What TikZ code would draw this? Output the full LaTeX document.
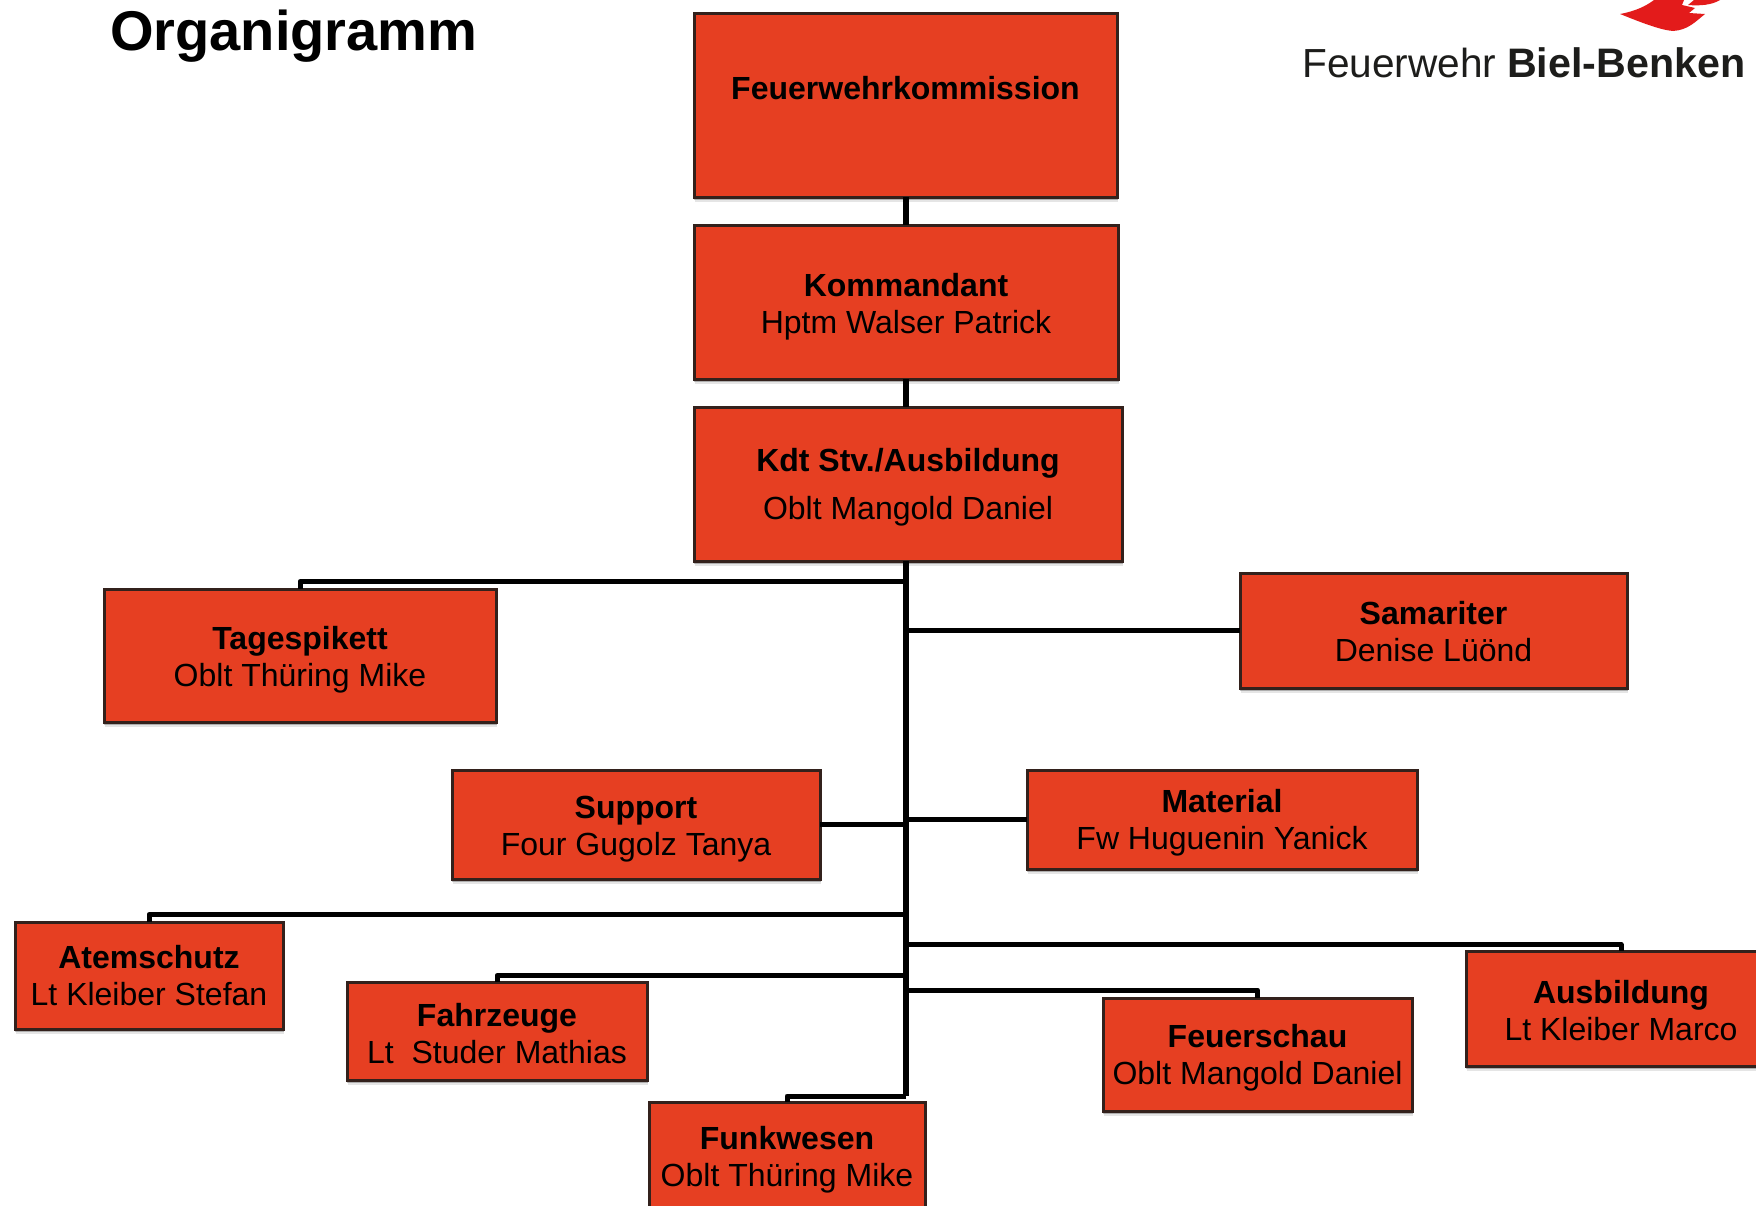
\documentclass[tikz,border=0pt]{standalone}
\usepackage{fontspec}
\setmainfont{Liberation Sans}
\usetikzlibrary{shadows}
\definecolor{boxred}{HTML}{E63F22}
\definecolor{boxline}{HTML}{33211C}
\definecolor{flame}{HTML}{E31B1B}
\definecolor{logotxt}{HTML}{1D1D1B}
% first line of a box, moved down by #1 without moving the box
\newcommand{\headln}[2]{\raisebox{0pt}[\dimexpr\height+#1*2\relax][\depth]{\textbf{#2}}}
\tikzset{
  orgbox/.style n args={2}{draw=boxline, line width=3pt, fill=boxred, inner sep=0pt, outer sep=0pt,
    minimum width=#1, minimum height=#2, align=center, text=black,
    font=\fontsize{32}{37}\selectfont,
    general shadow={shadow xshift=0.5pt, shadow yshift=-3pt, fill=black, opacity=.24, shadow scale=1.004},
    general shadow={shadow xshift=0.5pt, shadow yshift=-5pt, fill=black, opacity=.10}},
  conn/.style={draw=black, line width=5pt, line join=round},
  trunk/.style={draw=black, line width=6pt, line join=round},
  titletext/.style={font=\bfseries\fontsize{56}{60}\selectfont, text=black, inner sep=0pt, anchor=base west},
  logotext/.style={font=\fontsize{40.6}{46}\selectfont, text=logotxt, inner sep=0pt, anchor=base west}
}
\begin{document}
\begin{tikzpicture}[x=1pt,y=-1pt]
\clip (0,0) rectangle (1756,1205);
\useasboundingbox (0,0) rectangle (1756,1205);
\fill[white] (0,0) rectangle (1756,1205);

% title and logo
\node[titletext] (title) at (110,50.5) {Organigramm};
\fill[flame] (1620,14) .. controls (1636,11) and (1646,6) .. (1654,0)
  -- (1684,0) -- (1682,5) -- (1695,8) -- (1689,13) -- (1705,14)
  .. controls (1695,22) and (1688,30) .. (1673,31)
  .. controls (1660,30) and (1640,22) .. (1620,14) -- cycle;
\fill[flame] (1688,5) -- (1694,0) -- (1720,0) .. controls (1712,5) and (1700,6) .. (1688,5) -- cycle;
\node[logotext] (logoa) at (1302,77) {Feuerwehr};
\node[logotext, font=\bfseries\fontsize{41.2}{46}\selectfont] (logob) at (1507,77) {Biel-Benken};

% boxes
\node[orgbox={423pt}{184pt}] (fk) at (905.5,105) {\headln{1pt}{Feuerwehrkommission}\\\mbox{}};
\node[orgbox={424pt}{154pt}] (kom) at (906,302) {\headln{4.5pt}{Kommandant}\\Hptm Walser Patrick};
\node[orgbox={428pt}{154pt}] (kdt) at (908,484) {\headln{3.4pt}{Kdt Stv./Ausbildung}\\[11pt]Oblt Mangold Daniel};
\node[orgbox={392pt}{133pt}] (tage) at (300,655.5) {\headln{4.5pt}{Tagespikett}\\Oblt Thüring Mike};
\node[orgbox={387pt}{115pt}] (sam) at (1433.5,630.5) {\headln{1pt}{Samariter}\\Denise Lüönd};
\node[orgbox={368pt}{109pt}] (sup) at (636,824.5) {\headln{4.5pt}{Support}\\Four Gugolz Tanya};
\node[orgbox={390pt}{99pt}] (mat) at (1222,819.5) {\headln{3.4pt}{Material}\\Fw Huguenin Yanick};
\node[orgbox={268pt}{107pt}] (atem) at (149,975.5) {\textbf{Atemschutz}\\Lt Kleiber Stefan};
\node[orgbox={300pt}{98pt}] (fahr) at (497,1031) {\headln{2.2pt}{Fahrzeuge}\\Lt~~Studer Mathias};
\node[orgbox={276pt}{108pt}] (funk) at (787,1156) {\headln{3.4pt}{Funkwesen}\\Oblt Thüring Mike};
\node[orgbox={309pt}{113pt}] (fsch) at (1257.5,1054.5) {\headln{3.4pt}{Feuerschau}\\Oblt Mangold Daniel};
\node[orgbox={310pt}{115pt}] (ausb) at (1621,1008.5) {\headln{2.2pt}{Ausbildung}\\Lt Kleiber Marco};

% junctions on the trunk
\coordinate (jt) at (906,581.5);
\coordinate (ja) at (906,914.5);
\coordinate (jf) at (906,975.5);
\coordinate (jb) at (906,944.5);
\coordinate (jc) at (906,990);
\coordinate (jd) at (906,1096);

% connectors
\draw[trunk] (fk.south -| jt) -- (kom.north -| jt);
\draw[trunk] (kom.south -| jt) -- (kdt.north -| jt);
\draw[trunk] (kdt.south -| jt) -- (jd);
\draw[conn] (jd) -| (funk.north);
\draw[conn] (jt) -| (tage.north);
\draw[conn] (ja) -| (atem.north);
\draw[conn] (jf) -| (fahr.north);
\draw[conn] (jb) -| (ausb.north);
\draw[conn] (jc) -| (fsch.north);
\draw[conn] (sam.west) -- (sam.west -| jt);
\draw[conn] (sup.east) -- (sup.east -| jt);
\draw[conn] (mat.west) -- (mat.west -| jt);
\end{tikzpicture}
\end{document}
